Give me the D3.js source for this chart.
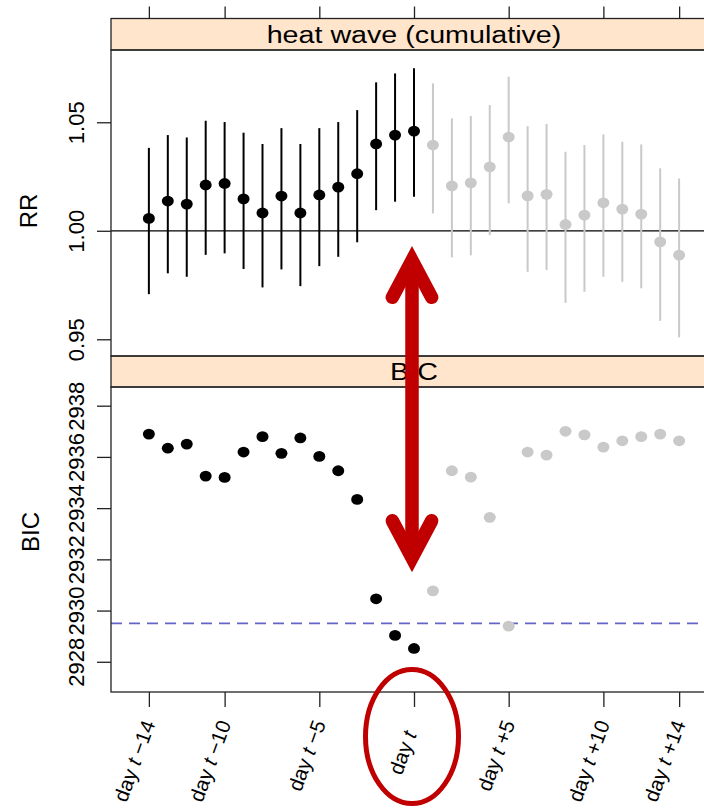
<!DOCTYPE html>
<html>
<head>
<meta charset="utf-8">
<script src="https://cdn.jsdelivr.net/npm/d3@7"></script>
<style>
  html, body { margin: 0; padding: 0; background: #ffffff; }
  svg { display: block; }
  text { font-family: "Liberation Sans", Arial, Helvetica, sans-serif; fill: #000; }
</style>
</head>
<body>
<svg id="chart" width="704" height="808"></svg>
<script>
// Lag days relative to day t
const days = [-14, -13, -12, -11, -10, -9, -8, -7, -6, -5, -4, -3, -2, -1, 0,
              1, 2, 3, 4, 5, 6, 7, 8, 9, 10, 11, 12, 13, 14];

// Cumulative heat-wave relative risk with 95% interval
const rrEst = [1.0057, 1.0137, 1.0123, 1.0211, 1.0218, 1.0147, 1.0082, 1.0160, 1.0082, 1.0165,
               1.0201, 1.0263, 1.0400, 1.0441, 1.0459,
               1.0395, 1.0207, 1.0221, 1.0294, 1.0432, 1.0161, 1.0168, 1.0029, 1.0072, 1.0129,
               1.0100, 1.0077, 0.9949, 0.9888];
const rrLower = [0.9708, 0.9804, 0.9788, 0.9889, 0.9896, 0.9824, 0.9739, 0.9822, 0.9745, 0.9837,
                 0.9880, 0.9947, 1.0095, 1.0134, 1.0157,
                 1.0080, 0.9877, 0.9887, 0.9980, 1.0126, 0.9811, 0.9819, 0.9668, 0.9719, 0.9788,
                 0.9765, 0.9735, 0.9585, 0.9509];
const rrUpper = [1.0382, 1.0441, 1.0430, 1.0507, 1.0501, 1.0452, 1.0400, 1.0473, 1.0400, 1.0473,
                 1.0501, 1.0556, 1.0684, 1.0725, 1.0749,
                 1.0679, 1.0518, 1.0529, 1.0579, 1.0710, 1.0482, 1.0492, 1.0364, 1.0395, 1.0444,
                 1.0410, 1.0398, 1.0288, 1.0241];

// Model BIC for each lag definition
const bic = [2936.89, 2936.34, 2936.50, 2935.25, 2935.20, 2936.19, 2936.79, 2936.14, 2936.74, 2936.02,
             2935.46, 2934.34, 2930.46, 2929.03, 2928.52,
             2930.77, 2935.46, 2935.21, 2933.64, 2929.39, 2936.19, 2936.07, 2937.00, 2936.86, 2936.38,
             2936.63, 2936.79, 2936.89, 2936.63];
const bicReference = 2929.5;

// Axis ticks and labels
const xTickDays = [-14, -10, -5, 0, 5, 10, 14];
const xTickSuffix = ["\u2212" + "14", "\u2212" + "10", "\u2212" + "5", "", "+5", "+10", "+14"];
const rrTicks = [0.95, 1.00, 1.05];
const bicTicks = [2928, 2930, 2932, 2934, 2936, 2938];

// Panel titles and axis titles
const panelTitles = ["heat wave (cumulative)", "BIC"];
const yTitles = ["RR", "BIC"];

// Last lag that is part of the selected (highlighted) window
const selectedUpTo = 0;

// Annotation anchor values (data units)
const arrowTopRR = 0.993;
const arrowBottomBIC = 2931.5;

// ---------- layout ----------
const svg = d3.select("#chart");
const left = 111, right = 717;
const top1Strip = 18.5, top1 = 50, bottom1 = 356;
const top2 = 387, bottom2 = 692;
const stripFill = "#ffe5cc";
const grey = "#c9c9c9";
const red = "#c00000";
const hStretch = 1.17;
const dotRx = 6.0, dotRy = 5.4;

const x = d3.scaleLinear().domain([-16, 16]).range([left, right]);
const yRR = d3.scaleLinear().domain([0.9423, 1.0833]).range([bottom1, top1]);
const yBIC = d3.scaleLinear().domain([2926.82, 2938.73]).range([bottom2, top2]);

const colorOf = d => d <= selectedUpTo ? "#000000" : grey;
const rows = days.map((d, i) => ({ day: d, est: rrEst[i], lo: rrLower[i], hi: rrUpper[i], bic: bic[i] }));

// ---------- strips ----------
function strip(y0, y1, label) {
  svg.append("rect")
    .attr("x", left).attr("y", y0).attr("width", right - left).attr("height", y1 - y0)
    .attr("fill", stripFill).attr("stroke", "#222").attr("stroke-width", 1.3);
  const cx = (left + right) / 2;
  svg.append("text")
    .attr("transform", `translate(${cx},${(y0 + y1) / 2 + 8.8}) scale(${hStretch},1)`)
    .attr("text-anchor", "middle")
    .attr("font-size", 24.5)
    .text(label);
}
strip(top1Strip, top1, panelTitles[0]);
strip(bottom1, top2, panelTitles[1]);

// ---------- top panel: RR ----------
const p1 = svg.append("g");
p1.append("line")
  .attr("x1", left).attr("x2", right).attr("y1", yRR(1)).attr("y2", yRR(1))
  .attr("stroke", "#000").attr("stroke-width", 1.2);

p1.selectAll("line.ci").data(rows).enter().append("line")
  .attr("class", "ci")
  .attr("x1", d => x(d.day)).attr("x2", d => x(d.day))
  .attr("y1", d => yRR(d.lo)).attr("y2", d => yRR(d.hi))
  .attr("stroke", d => colorOf(d.day)).attr("stroke-width", 2);

p1.selectAll("ellipse").data(rows).enter().append("ellipse")
  .attr("cx", d => x(d.day)).attr("cy", d => yRR(d.est))
  .attr("rx", dotRx).attr("ry", dotRy)
  .attr("fill", d => colorOf(d.day));

p1.append("rect")
  .attr("x", left).attr("y", top1).attr("width", right - left).attr("height", bottom1 - top1)
  .attr("fill", "none").attr("stroke", "#222").attr("stroke-width", 1.3);

// top ticks above the first strip
const topAxis = svg.append("g").attr("transform", `translate(0,${top1Strip})`)
  .call(d3.axisTop(x).tickValues(xTickDays).tickSize(12).tickFormat(""));
topAxis.select(".domain").remove();
topAxis.selectAll("line").attr("stroke", "#222").attr("stroke-width", 1.3);

// left axis of the RR panel
const rrAxis = svg.append("g").attr("transform", `translate(${left},0)`)
  .call(d3.axisLeft(yRR).tickValues(rrTicks).tickSize(14).tickFormat(d3.format(".2f")));
rrAxis.select(".domain").remove();
rrAxis.selectAll("line").attr("stroke", "#222").attr("stroke-width", 1.3);
rrAxis.selectAll("text")
  .attr("x", null).attr("dy", null)
  .attr("transform", "translate(-27,0) rotate(-90)")
  .attr("text-anchor", "middle")
  .attr("font-size", 22)
  .attr("font-family", "Liberation Sans, Arial, sans-serif")
  .attr("fill", "#000");

// ---------- bottom panel: BIC ----------
const p2 = svg.append("g");
p2.append("line")
  .attr("x1", left).attr("x2", right).attr("y1", yBIC(bicReference)).attr("y2", yBIC(bicReference))
  .attr("stroke", "#6565c8").attr("stroke-width", 1.6).attr("stroke-dasharray", "11,7");

p2.selectAll("ellipse").data(rows).enter().append("ellipse")
  .attr("cx", d => x(d.day)).attr("cy", d => yBIC(d.bic))
  .attr("rx", dotRx).attr("ry", dotRy)
  .attr("fill", d => colorOf(d.day));

p2.append("rect")
  .attr("x", left).attr("y", top2).attr("width", right - left).attr("height", bottom2 - top2)
  .attr("fill", "none").attr("stroke", "#222").attr("stroke-width", 1.3);

const bicAxis = svg.append("g").attr("transform", `translate(${left},0)`)
  .call(d3.axisLeft(yBIC).tickValues(bicTicks).tickSize(14).tickFormat(d3.format("d")));
bicAxis.select(".domain").remove();
bicAxis.selectAll("line").attr("stroke", "#222").attr("stroke-width", 1.3);
bicAxis.selectAll("text")
  .attr("x", null).attr("dy", null)
  .attr("transform", "translate(-27,0) rotate(-90)")
  .attr("text-anchor", "middle")
  .attr("font-size", 22)
  .attr("font-family", "Liberation Sans, Arial, sans-serif")
  .attr("fill", "#000");

// bottom x axis with rotated day labels
const xAxis = svg.append("g").attr("transform", `translate(0,${bottom2})`)
  .call(d3.axisBottom(x).tickValues(xTickDays).tickSize(15).tickFormat(""));
xAxis.select(".domain").remove();
xAxis.selectAll("line").attr("stroke", "#222").attr("stroke-width", 1.3);

const xl = svg.append("g");
xTickDays.forEach((d, i) => {
  const t = xl.append("text")
    .attr("transform", `translate(${x(d)},${bottom2 + 29}) rotate(-70)`)
    .attr("text-anchor", "end")
    .attr("dy", "0.35em")
    .attr("font-size", 20.5)
    .attr("xml:space", "preserve");
  t.append("tspan").text("day ");
  t.append("tspan").attr("font-style", "italic").text("t");
  t.append("tspan").text(xTickSuffix[i] ? " " + xTickSuffix[i] : "\u00a0\u00a0");
});

// y axis titles
svg.append("text")
  .attr("transform", `translate(37,211) rotate(-90)`)
  .attr("text-anchor", "middle").attr("font-size", 24)
  .text(yTitles[0]);
svg.append("text")
  .attr("transform", `translate(39,532) rotate(-90)`)
  .attr("text-anchor", "middle").attr("font-size", 24)
  .text(yTitles[1]);

// ---------- annotation: double arrow and circled day t ----------
const ax = x(0) - 2;
const yTopTip = yRR(arrowTopRR);
const yBotTip = yBIC(arrowBottomBIC);
const w = 13.5;
const half = 28 * Math.PI / 180;
const miter = (w / 2) / Math.sin(half);
const wingLen = 37;
const wingDx = wingLen * Math.tan(half);
const ann = svg.append("g");
ann.append("line")
  .attr("x1", ax).attr("x2", ax)
  .attr("y1", yTopTip + miter).attr("y2", yBotTip - miter)
  .attr("stroke", red).attr("stroke-width", w);
const vTop = yTopTip + miter, vBot = yBotTip - miter;
ann.append("path")
  .attr("d", `M${ax - wingDx},${vTop + wingLen} L${ax},${vTop} L${ax + wingDx},${vTop + wingLen}`)
  .attr("fill", "none").attr("stroke", red).attr("stroke-width", w)
  .attr("stroke-linejoin", "miter").attr("stroke-miterlimit", 10).attr("stroke-linecap", "round");
ann.append("path")
  .attr("d", `M${ax - wingDx},${vBot - wingLen} L${ax},${vBot} L${ax + wingDx},${vBot - wingLen}`)
  .attr("fill", "none").attr("stroke", red).attr("stroke-width", w)
  .attr("stroke-linejoin", "miter").attr("stroke-miterlimit", 10).attr("stroke-linecap", "round");

ann.append("ellipse")
  .attr("cx", ax).attr("cy", bottom2 + 44.5)
  .attr("rx", 46.5).attr("ry", 67)
  .attr("fill", "none").attr("stroke", red).attr("stroke-width", 5);
</script>
</body>
</html>
